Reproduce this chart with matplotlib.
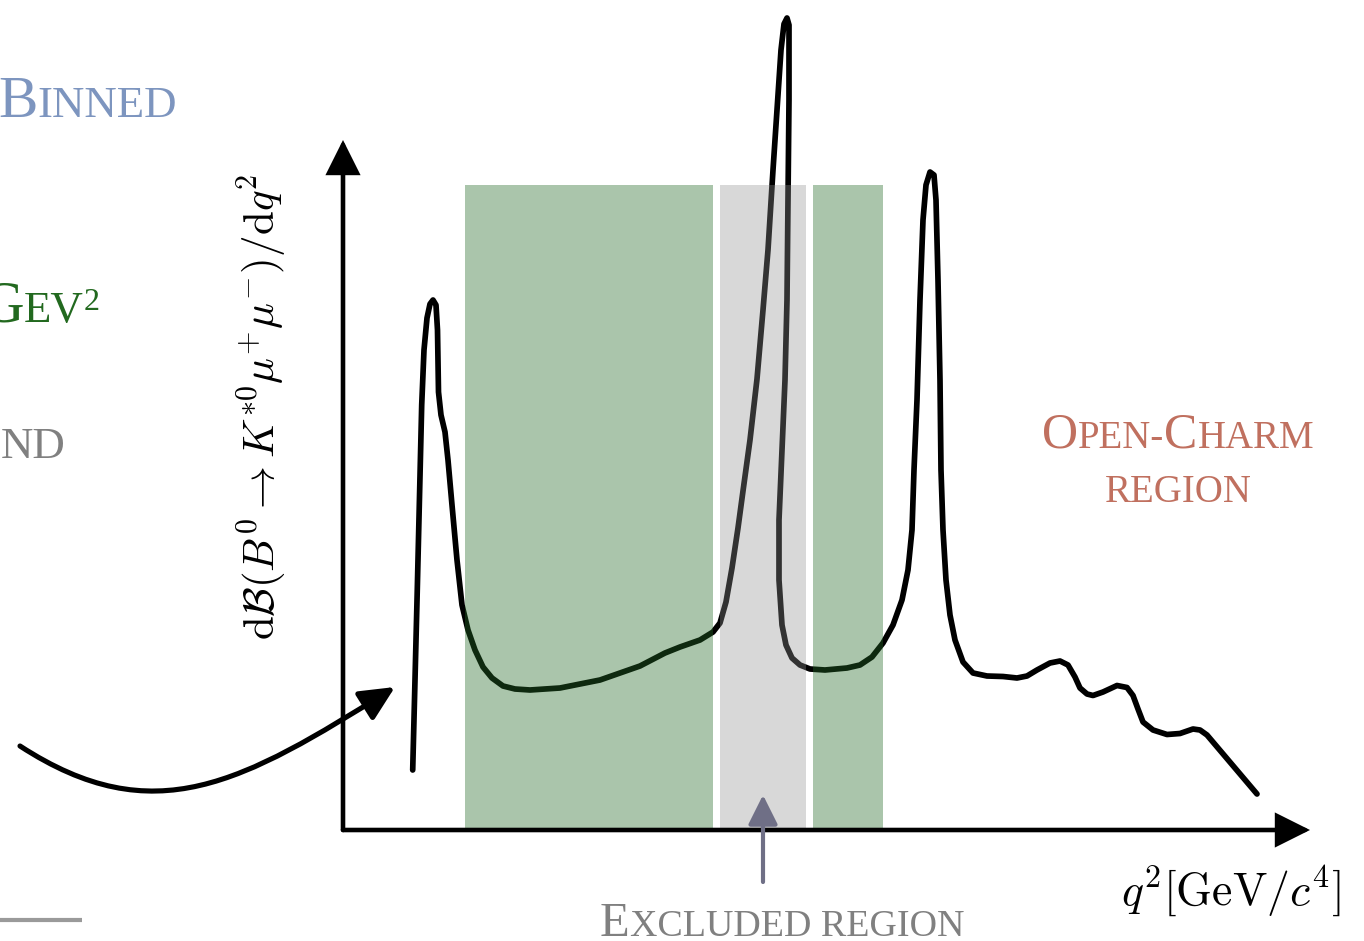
import matplotlib
matplotlib.use("Agg")
import matplotlib.pyplot as plt
from matplotlib.patches import FancyArrowPatch
from matplotlib.path import Path
import matplotlib.transforms as mtransforms

plt.rcParams['mathtext.fontset'] = 'cm'

# ---- data (arbitrary units, schematic) ----
q2 = [1.394, 1.44, 1.486, 1.53, 1.574, 1.62, 1.68, 1.74, 1.80, 1.86, 1.89, 1.91,
      1.96, 2.04, 2.10, 2.18, 2.28, 2.38, 2.50, 2.64, 2.80, 2.98, 3.20, 3.44,
      3.74, 4.34, 5.14, 5.94, 6.44, 6.74, 7.14, 7.40, 7.54, 7.66, 7.78, 7.90,
      8.00, 8.14, 8.28, 8.40, 8.50, 8.60, 8.68, 8.76, 8.82, 8.88, 8.92, 8.92,
      8.90, 8.88, 8.84, 8.78, 8.72, 8.72, 8.78, 8.86, 8.98, 9.14, 9.34, 9.64,
      10.08, 10.34, 10.58, 10.80, 11.00, 11.18, 11.30, 11.38, 11.42, 11.48,
      11.54, 11.60, 11.66, 11.74, 11.82, 11.86, 11.90, 11.94, 11.96, 12.00,
      12.06, 12.14, 12.24, 12.40, 12.60, 12.88, 13.20, 13.48, 13.68, 13.88,
      14.14, 14.34, 14.50, 14.64, 14.74, 14.88, 15.00, 15.20, 15.48, 15.68,
      15.80, 15.90, 16.00, 16.20, 16.48, 16.74, 17.00, 17.14, 17.28, 18.28]
rate = [1.20, 3.00, 4.82, 6.66, 8.50, 9.60, 10.24, 10.52, 10.60, 10.50, 10.00, 8.76,
        8.30, 7.96, 7.40, 6.50, 5.40, 4.50, 4.00, 3.60, 3.26, 3.04, 2.88, 2.82,
        2.80, 2.84, 3.00, 3.28, 3.54, 3.66, 3.80, 3.96, 4.14, 4.56, 5.24, 6.04,
        6.78, 7.80, 9.02, 10.40, 11.60, 13.20, 14.40, 15.60, 16.12, 16.24, 16.10, 14.60,
        12.60, 10.60, 9.00, 7.60, 6.20, 5.00, 4.10, 3.70, 3.44, 3.30, 3.22, 3.20,
        3.24, 3.30, 3.46, 3.74, 4.10, 4.60, 5.20, 6.00, 7.20, 8.60,
        10.60, 12.20, 12.90, 13.16, 13.10, 12.60, 11.00, 9.00, 7.20, 6.00,
        5.00, 4.30, 3.80, 3.36, 3.14, 3.08, 3.07, 3.04, 3.08, 3.20,
        3.34, 3.38, 3.30, 3.06, 2.84, 2.72, 2.69, 2.76, 2.89, 2.85,
        2.69, 2.42, 2.16, 2.00, 1.91, 1.93, 2.02, 2.00, 1.90, 0.72]

bin_lo = [2.44, 9.40]      # green bins
bin_hi = [7.40, 10.80]
excl_lo, excl_hi = 7.54, 9.26  # excluded (grey) region
band_top = 12.9

x_axis_end = 19.34
y_axis_end = 13.8

# pointer arc (left): start, two Bezier control points, tip
arc_ctrl_x = [-6.46, -3.775, -2.01, 1.04]
arc_ctrl_y = [1.68, -0.064, 0.95, 2.86]

# ---- figure ----
W, H = 1364, 941
fig = plt.figure(figsize=(W / 100, H / 100), dpi=100)
ax = fig.add_axes([0, 0, 1, 1])
ax.set_xlim(-343 / 50, (W - 343) / 50)
ax.set_ylim(-(H - 830) / 50, 830 / 50)
ax.axis('off')

# curve (drawn beneath translucent bands)
ax.plot(q2, rate, color='black', lw=4.1, solid_capstyle='round',
        solid_joinstyle='round', zorder=1)

for lo, hi in zip(bin_lo, bin_hi):
    ax.fill_between([lo, hi], 0, band_top, color='#266b28', alpha=0.39,
                    lw=0, zorder=2)
ax.fill_between([excl_lo, excl_hi], 0, band_top, color='#909090', alpha=0.35,
                lw=0, zorder=2)

# axes arrows
for end in [(x_axis_end, 0), (0, y_axis_end)]:
    ax.add_patch(FancyArrowPatch((0, 0), end,
                 arrowstyle='-|>,head_length=1.0,head_width=0.5',
                 mutation_scale=20, lw=3.3, color='black',
                 shrinkA=0, shrinkB=0, zorder=4, joinstyle='miter'))

# excluded-region arrow
ax.add_patch(FancyArrowPatch((8.40, -1.04), (8.40, 0.70),
             arrowstyle='-|>,head_length=0.9,head_width=0.45',
             mutation_scale=20, lw=3.0, color='#6f6f86',
             shrinkA=0, shrinkB=0, zorder=4))

# curved pointer arrow on the left (cubic Bezier)
arc_path = Path(list(zip(arc_ctrl_x, arc_ctrl_y)),
                [Path.MOVETO, Path.CURVE4, Path.CURVE4, Path.CURVE4])
ax.add_patch(FancyArrowPatch(path=arc_path,
             arrowstyle='-|>,head_length=1.05,head_width=0.5',
             mutation_scale=20, lw=3.7, color='black', zorder=4))

# grey rule bottom-left
ax.plot([-6.9, -5.22], [-1.8, -1.8], color='#9a9a9a', lw=3.0,
        solid_capstyle='butt')

# axis labels
ax.text(19.94, -1.5, r'$q^2[\mathrm{GeV}/c^4]$', fontsize=33,
        ha='right', va='baseline')
ax.text(-1.62, 8.46,
        r'$\mathrm{d}\mathcal{B}(B^0 \to K^{*0}\mu^{+}\mu^{-})/\mathrm{d}q^2$',
        fontsize=31, rotation=90, ha='center', va='center')

# small-caps helper
renderer = fig.canvas.get_renderer()
SERIF = 'Liberation Serif'


def smallcaps(x, y, parts, color, ha='left'):
    arts = []
    widths = []
    for p in parts:
        s, sz = p[0], p[1]
        t = ax.text(x, y, s, fontsize=sz, family=SERIF, color=color,
                    ha='left', va='baseline')
        widths.append(t.get_window_extent(renderer).width)
        arts.append(t)
    total = sum(widths)
    off = {'left': 0, 'center': -total / 2, 'right': -total}[ha]
    for t, w, p in zip(arts, widths, parts):
        dy = p[2] if len(p) > 2 else 0
        t.set_transform(mtransforms.offset_copy(ax.transData, fig=fig,
                                                x=off, y=dy, units='dots'))
        off += w


smallcaps(-6.90, 14.26, [('B', 42.5), ('INNED', 32.4)], '#7d95bf')
smallcaps(-4.86, 10.16, [('G', 42.5), ('EV', 32.4), ('2', 23, 12)], '#22691f',
          ha='right')
smallcaps(-5.56, 7.44, [('ND', 32.4)], '#808080', ha='right')
smallcaps(16.70, 7.64, [('O', 36), ('PEN-', 28), ('C', 36), ('HARM', 28)],
          '#c0705f', ha='center')
smallcaps(16.70, 6.56, [('REGION', 28)], '#c0705f', ha='center')
smallcaps(8.78, -2.12, [('E', 35), ('XCLUDED REGION', 27.4)], '#808080',
          ha='center')

fig.savefig('out.png', dpi=100)
